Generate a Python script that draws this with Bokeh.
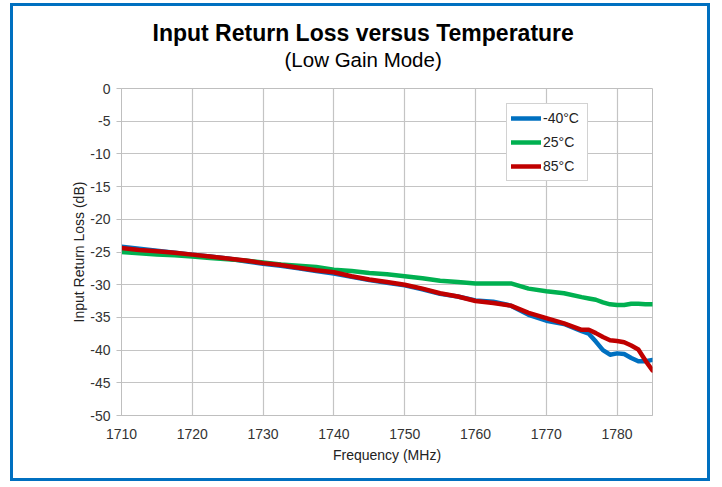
from bokeh.plotting import figure
from bokeh.models import Range1d, Legend, LegendItem, Title, FixedTicker
from bokeh.embed import file_html
from bokeh.resources import INLINE

freq = [1710, 1712.5, 1715, 1717.5, 1720, 1722.5, 1725, 1727.5, 1730, 1732.5,
        1735, 1737.5, 1740, 1742.5, 1745, 1747.5, 1750, 1752.5, 1755, 1757.5,
        1760, 1762.5, 1765, 1767.5, 1770, 1772.5, 1775, 1776, 1777, 1778,
        1779, 1780, 1781, 1782, 1783, 1784, 1785]

rl_m40 = [-24.2, -24.5, -24.8, -25.1, -25.4, -25.7, -26.0, -26.4, -26.8, -27.1,
          -27.5, -27.9, -28.3, -28.8, -29.3, -29.7, -30.1, -30.7, -31.4, -31.8,
          -32.4, -32.6, -33.2, -34.6, -35.5, -36.0, -37.1, -37.5, -38.7, -40.0,
          -40.7, -40.5, -40.6, -41.2, -41.7, -41.7, -41.5]

rl_25 = [-25.0, -25.2, -25.4, -25.5, -25.7, -25.9, -26.1, -26.3, -26.6, -26.9,
         -27.1, -27.3, -27.7, -27.9, -28.2, -28.4, -28.7, -29.0, -29.4, -29.6,
         -29.8, -29.8, -29.8, -30.6, -31.0, -31.3, -31.9, -32.1, -32.3, -32.7,
         -33.0, -33.1, -33.1, -32.9, -32.9, -33.0, -33.0]

rl_85 = [-24.4, -24.7, -24.9, -25.1, -25.4, -25.7, -26.0, -26.3, -26.7, -27.0,
         -27.4, -27.8, -28.1, -28.7, -29.2, -29.6, -30.0, -30.6, -31.3, -31.8,
         -32.5, -32.8, -33.2, -34.3, -35.1, -35.9, -36.9, -36.9, -37.4, -38.0,
         -38.5, -38.6, -38.8, -39.3, -39.9, -41.6, -43.1]

series_names = ["-40°C", "25°C", "85°C"]
series_colors = ["#0070C0", "#00B050", "#C00000"]
x_ticks = [1710, 1720, 1730, 1740, 1750, 1760, 1770, 1780]
y_ticks = [0, -5, -10, -15, -20, -25, -30, -35, -40, -45, -50]

title_text = "Input Return Loss versus Temperature"
subtitle_text = "(Low Gain Mode)"
x_label = "Frequency (MHz)"
y_label = "Input Return Loss (dB)"

FONT = "Liberation Sans"

p = figure(width=700, height=478, output_backend="svg", toolbar_location=None,
           x_range=Range1d(1710, 1785), y_range=Range1d(-50, 0),
           min_border_left=108, min_border_right=61, min_border_top=82,
           min_border_bottom=69, title=None)
p.margin = (3, 0, 0, 10)
p.styles = {"border": "3px solid #0070C0"}
p.background_fill_color = "white"
p.border_fill_color = "white"
p.outline_line_color = "#BFBFBF"
p.outline_line_width = 1

p.xaxis.ticker = FixedTicker(ticks=x_ticks)
p.yaxis.ticker = FixedTicker(ticks=y_ticks)
p.yaxis.major_label_overrides = {v: str(v) for v in y_ticks}
for ax in (p.xaxis[0], p.yaxis[0]):
    ax.axis_line_color = "#BFBFBF"
    ax.major_tick_line_color = "#BFBFBF"
    ax.minor_tick_line_color = None
    ax.major_tick_in = 0
    ax.major_label_text_font = FONT
    ax.major_label_text_font_size = "14px"
    ax.major_label_text_color = "#333333"
    ax.axis_label_text_font = FONT
    ax.axis_label_text_font_size = "14px"
    ax.axis_label_text_font_style = "normal"
    ax.axis_label_text_color = "#222222"
p.xaxis.major_tick_out = 0
p.xaxis.major_label_standoff = 13
p.xaxis.axis_label = x_label
p.xaxis.axis_label_standoff = 5
p.yaxis.major_tick_out = 5
p.yaxis.major_label_standoff = 6
p.yaxis.axis_label = y_label
p.yaxis.axis_label_standoff = 0

p.xgrid.grid_line_color = "#C4C4C4"
p.ygrid.grid_line_color = "#C4C4C4"
p.xgrid.grid_line_width = 1.2
p.ygrid.grid_line_width = 1.2

renderers = []
for vals, col in zip([rl_m40, rl_25, rl_85], series_colors):
    r = p.line(freq, vals, line_color=col, line_width=4.5, line_join="round", line_cap="round")
    renderers.append(r)

legend = Legend(items=[LegendItem(label=n, renderers=[r]) for n, r in zip(series_names, renderers)],
                location=(385, 234), orientation="vertical")
legend.label_text_font = FONT
legend.label_text_font_size = "14px"
legend.label_text_color = "#222222"
legend.glyph_width = 30
legend.glyph_height = 20
legend.label_height = 20
legend.label_width = 40
legend.label_standoff = 2
legend.spacing = 4
legend.padding = 4
legend.margin = 0
legend.border_line_color = "#A6A6A6"
legend.border_line_width = 1
legend.background_fill_color = "white"
legend.background_fill_alpha = 1
p.add_layout(legend, "center")

sub = Title(text=subtitle_text, align="left", offset=163, text_font=FONT,
            text_font_size="20.5px", text_font_style="normal", text_color="black",
            standoff=0, padding=(0, 0, 0, 18))
main = Title(text=title_text, align="left", offset=31, text_font=FONT,
             text_font_size="23px", text_font_style="bold", text_color="black",
             standoff=0)
p.add_layout(sub, "above")
p.add_layout(main, "above")

open("out.html", "w").write(file_html(p, INLINE))
